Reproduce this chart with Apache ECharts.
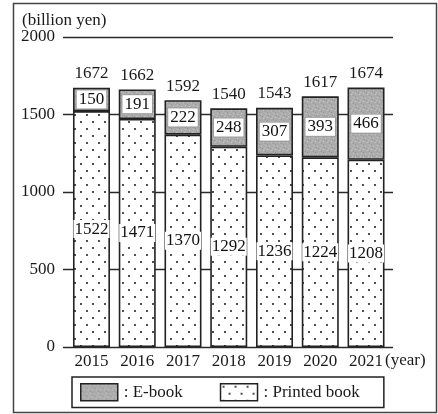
<!DOCTYPE html>
<html>
<head>
<meta charset="utf-8">
<script src="https://cdn.jsdelivr.net/npm/echarts@6/dist/echarts.min.js"></script>
<style>
html,body{margin:0;padding:0;background:#fff;}
#chart{width:438px;height:414px;}
</style>
</head>
<body>
<div id="chart"></div>
<script>
var years = ['2015','2016','2017','2018','2019','2020','2021'];
var printedBook = [1522,1471,1370,1292,1236,1224,1208];
var eBook = [150,191,222,248,307,393,466];
var totals = [1672,1662,1592,1540,1543,1617,1674];
var yTicks = [0,500,1000,1500,2000];

var FONT = '"Liberation Serif", "Times New Roman", serif';

function dotPattern(){
  var c = document.createElement('canvas');
  c.width = 12; c.height = 14;
  var g = c.getContext('2d');
  g.fillStyle = '#ffffff'; g.fillRect(0,0,12,14);
  g.fillStyle = '#222';
  g.beginPath(); g.arc(3,3,1.05,0,Math.PI*2); g.fill();
  g.beginPath(); g.arc(9,10,1.05,0,Math.PI*2); g.fill();
  return c;
}
function grayPattern(){
  var c = document.createElement('canvas');
  c.width = 8; c.height = 8;
  var g = c.getContext('2d');
  g.fillStyle = '#acacac'; g.fillRect(0,0,8,8);
  g.fillStyle = '#c6c6c6';
  [[1,1],[5,2],[3,5],[7,6],[0,4]].forEach(function(p){g.fillRect(p[0],p[1],1,1);});
  g.fillStyle = '#949494';
  [[3,0],[6,4],[1,7],[4,3]].forEach(function(p){g.fillRect(p[0],p[1],1,1);});
  return c;
}

var chart = echarts.init(document.getElementById('chart'), null, {renderer:'canvas'});
var option = {
  backgroundColor: '#fff',
  animation: false,
  textStyle: {fontFamily: FONT, color: '#1a1a1a'},
  grid: [
    {left: 63, right: 45, top: 37, bottom: 67},
    {left: 68.6, right: 49.1, top: 37, bottom: 67}
  ],
  xAxis: [
    {gridIndex: 0, type: 'value', show: false, min: 0, max: 1},
    {gridIndex: 1, type: 'category', data: years,
     axisLine: {show: false}, axisTick: {show: false},
     axisLabel: {fontFamily: FONT, fontSize: 17, color: '#1a1a1a', margin: 6}}
  ],
  yAxis: [
    {gridIndex: 0, type: 'value', min: 0, max: 2000, interval: 500,
     axisLine: {show: false}, axisTick: {show: false},
     axisLabel: {fontFamily: FONT, fontSize: 17, color: '#1a1a1a', margin: 8,
       formatter: function(v){ return yTicks.indexOf(v) >= 0 ? String(v) : ''; }},
     splitLine: {show: true, lineStyle: {color: '#2a2a2a', width: 1.4}}},
    {gridIndex: 1, type: 'value', min: 0, max: 2000, interval: 500, show: false,
     splitLine: {show: false}}
  ],
  legend: {
    data: ['E-book', 'Printed book'],
    left: 72, top: 377,
    itemWidth: 37, itemHeight: 17, itemGap: 37,
    icon: 'rect',
    padding: [6, 24, 6, 8],
    borderColor: '#222', borderWidth: 1.5,
    formatter: function(n){ return ': ' + n; },
    textStyle: {fontFamily: FONT, fontSize: 17, color: '#1a1a1a', padding: [0,0,0,1]},
    itemStyle: {borderColor: '#222', borderWidth: 1.5}
  },
  graphic: [
    {type: 'rect', shape: {x: 13.5, y: 3.5, width: 423, height: 409},
     style: {fill: 'none', stroke: '#444', lineWidth: 1.5}, silent: true},
    {type: 'text', left: 22, top: 12,
     style: {text: '(billion yen)', font: '17px ' + FONT, fill: '#1a1a1a'}},
    {type: 'text', left: 385, top: 352,
     style: {text: '(year)', font: '17px ' + FONT, fill: '#1a1a1a'}}
  ],
  series: [
    {name: 'Printed book', type: 'bar', xAxisIndex: 1, yAxisIndex: 1, stack: 'total',
     barWidth: 37, data: printedBook,
     itemStyle: {color: {image: dotPattern(), repeat: 'repeat'}, borderColor: '#222', borderWidth: 1.6},
     label: {show: true, position: 'inside', fontFamily: FONT, fontSize: 17, color: '#111',
       backgroundColor: '#fff', padding: [1, 1, 0, 1]}},
    {name: 'E-book', type: 'bar', xAxisIndex: 1, yAxisIndex: 1, stack: 'total',
     barWidth: 37, data: eBook,
     itemStyle: {color: {image: grayPattern(), repeat: 'repeat'}, borderColor: '#222', borderWidth: 1.6},
     label: {show: true, position: 'inside', fontFamily: FONT, fontSize: 17, color: '#111',
       backgroundColor: '#fff', borderColor: '#9a9a9a', borderWidth: 1, padding: [1, 2, 0, 2]}},
    {name: 'Total', type: 'line', xAxisIndex: 1, yAxisIndex: 1, data: totals,
     symbol: 'circle', symbolSize: 1, itemStyle: {color: 'rgba(0,0,0,0)'},
     lineStyle: {width: 0, opacity: 0}, silent: true,
     label: {show: true, position: 'top', distance: 5, fontFamily: FONT, fontSize: 17, color: '#1a1a1a'}}
  ]
};
chart.setOption(option);
</script>
</body>
</html>
